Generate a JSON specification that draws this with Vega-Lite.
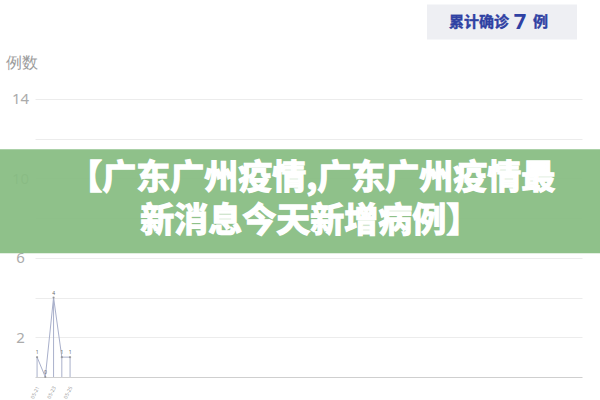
{
  "$schema": "https://vega.github.io/schema/vega-lite/v6.json",
  "width": 547,
  "height": 318,
  "autosize": {"type": "none"},
  "padding": {"left": 35, "top": 59, "right": 18, "bottom": 23},
  "background": "white",
  "config": {
    "view": {"stroke": null},
    "font": "Noto Sans"
  },
  "datasets": {
    "cases": [
      {"day": 0, "date": "05-21", "cases": 1},
      {"day": 1, "date": "05-22", "cases": 0},
      {"day": 2, "date": "05-23", "cases": 4},
      {"day": 3, "date": "05-24", "cases": 1},
      {"day": 4, "date": "05-25", "cases": 1}
    ]
  },
  "layer": [
    {
      "data": {"name": "cases"},
      "mark": {"type": "line", "color": "#a9b0cb", "strokeWidth": 1, "clip": false},
      "encoding": {
        "x": {
          "field": "day",
          "type": "quantitative",
          "scale": {"domain": [-0.25, 66.05], "nice": false, "zero": false},
          "axis": {
            "title": null,
            "values": [0, 1, 2, 3, 4],
            "labelExpr": "['05-21','05-22','05-23','05-24','05-25'][datum.value]",
            "labelAngle": -65,
            "labelFontSize": 5,
            "labelColor": "#9a9a9a",
            "labelPadding": 9,
            "ticks": false,
            "grid": false,
            "domainColor": "#cfcfcf",
            "domainWidth": 1
          }
        },
        "y": {
          "field": "cases",
          "type": "quantitative",
          "scale": {"domain": [0, 16], "nice": false},
          "axis": {
            "title": "例数",
            "titleAngle": 0,
            "titleAlign": "left",
            "titleBaseline": "middle",
            "titleX": -30,
            "titleY": 3,
            "titleFontSize": 16,
            "titleFontWeight": "normal",
            "titleColor": "#9c9c9c",
            "values": [2, 4, 6, 8, 10, 12, 14],
            "labelExpr": "datum.value % 4 == 2 ? datum.value : ''",
            "labelAlign": "center",
            "labelPadding": 15,
            "labelFontSize": 15,
            "labelColor": "#ababab",
            "domain": false,
            "ticks": false,
            "gridColor": "#ececec",
            "gridWidth": 1
          }
        }
      }
    },
    {
      "data": {"name": "cases"},
      "mark": {"type": "rule", "color": "#a9b0cb", "strokeWidth": 1},
      "encoding": {
        "x": {"field": "day", "type": "quantitative"},
        "y": {"field": "cases", "type": "quantitative"},
        "y2": {"datum": 0}
      }
    },
    {
      "data": {"name": "cases"},
      "mark": {"type": "point", "filled": true, "size": 5, "color": "#888888"},
      "encoding": {
        "x": {"field": "day", "type": "quantitative"},
        "y": {"field": "cases", "type": "quantitative"}
      }
    },
    {
      "data": {"name": "cases"},
      "mark": {"type": "text", "fontSize": 5, "color": "#666666", "dy": -5},
      "encoding": {
        "x": {"field": "day", "type": "quantitative"},
        "y": {"field": "cases", "type": "quantitative"},
        "text": {"field": "cases", "type": "quantitative"}
      }
    },
    {
      "data": {"values": [{"x": -10, "x2": 80, "y": 6.23, "y2": 11.46}]},
      "mark": {"type": "rect", "color": "#87bc81", "opacity": 0.93, "clip": false},
      "encoding": {
        "x": {"field": "x", "type": "quantitative"},
        "x2": {"field": "x2"},
        "y": {"field": "y", "type": "quantitative"},
        "y2": {"field": "y2"}
      }
    },
    {
      "data": {"values": [
        {"x": 33.3, "y": 9.96, "label": "【广东广州疫情,广东广州疫情最"},
        {"x": 33.1, "y": 7.8, "label": "新消息今天新增病例】"}
      ]},
      "mark": {
        "type": "text",
        "font": "Noto Sans CJK SC",
        "fontWeight": "bold",
        "fontSize": 34,
        "color": "white",
        "stroke": "white",
        "strokeWidth": 1.3,
        "align": "center",
        "baseline": "middle",
        "clip": false
      },
      "encoding": {
        "x": {"field": "x", "type": "quantitative"},
        "y": {"field": "y", "type": "quantitative"},
        "text": {"field": "label"}
      }
    },
    {
      "data": {"values": [{"x": 47.27, "x2": 65.45, "y": 16.98, "y2": 18.74}]},
      "mark": {"type": "rect", "color": "#eeeff3", "clip": false},
      "encoding": {
        "x": {"field": "x", "type": "quantitative"},
        "x2": {"field": "x2"},
        "y": {"field": "y", "type": "quantitative"},
        "y2": {"field": "y2"}
      }
    },
    {
      "data": {"values": [
        {"x": 49.94, "y": 17.84, "label": "累计确诊"},
        {"x": 60.1, "y": 17.84, "label": "例"}
      ]},
      "mark": {
        "type": "text",
        "font": "Noto Sans CJK SC",
        "fontWeight": "bold",
        "fontSize": 15,
        "color": "#2f41a3",
        "stroke": "#2f41a3",
        "strokeWidth": 0.4,
        "align": "left",
        "baseline": "middle",
        "clip": false
      },
      "encoding": {
        "x": {"field": "x", "type": "quantitative"},
        "y": {"field": "y", "type": "quantitative"},
        "text": {"field": "label"}
      }
    },
    {
      "data": {"values": [{"x": 58.55, "y": 17.84, "label": "7"}]},
      "mark": {
        "type": "text",
        "font": "Noto Sans",
        "fontWeight": "bold",
        "fontSize": 22,
        "color": "#2f41a3",
        "align": "center",
        "baseline": "middle",
        "clip": false
      },
      "encoding": {
        "x": {"field": "x", "type": "quantitative"},
        "y": {"field": "y", "type": "quantitative"},
        "text": {"field": "label"}
      }
    }
  ]
}
